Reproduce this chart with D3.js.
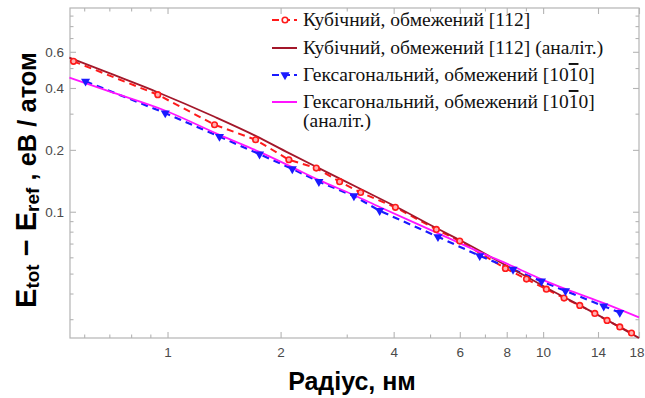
<!DOCTYPE html>
<html>
<head>
<meta charset="utf-8">
<script src="https://cdn.jsdelivr.net/npm/d3@7"></script>
<style>
  body { margin: 0; background: #fff; }
  svg { display: block; }
</style>
</head>
<body>
<svg></svg>
<script>
// cubic, numeric (red dashed + circles)
const cubX = [0.562, 0.942, 1.334, 1.716, 2.104, 2.489, 2.872, 3.267, 4.043, 5.197, 5.998, 7.935, 9.03, 10.2, 11.37, 12.52, 13.73, 14.8, 16.0, 17.19];
const cubY = [0.539, 0.371, 0.265, 0.224, 0.179, 0.163, 0.140, 0.124, 0.105, 0.082, 0.072, 0.053, 0.047, 0.042, 0.038, 0.035, 0.032, 0.0296, 0.0275, 0.0257];

// cubic, analytic (dark red)
const cubAnX = [0.548, 0.70, 0.941, 1.334, 1.716, 2.10, 2.49, 3.267, 4.05, 5.19, 6.0, 7.94, 10.2, 13.7, 18.0];
const cubAnY = [0.562, 0.472, 0.3815, 0.2897, 0.234, 0.1933, 0.1652, 0.129, 0.106, 0.0833, 0.0728, 0.055, 0.0427, 0.0321, 0.0243];

// hexagonal, numeric (blue dashed + triangles)
const hexX = [0.605, 0.986, 1.375, 1.758, 2.149, 2.529, 3.135, 3.671, 5.248, 6.78, 8.316, 9.9, 11.47, 14.5, 16.0];
const hexY = [0.431, 0.302, 0.232, 0.1905, 0.1616, 0.140, 0.1193, 0.1011, 0.0755, 0.061, 0.0524, 0.0459, 0.0412, 0.0347, 0.0323];

// hexagonal, analytic (magenta)
const hexAnX = [0.548, 0.70, 0.988, 1.375, 1.758, 2.14, 2.525, 3.13, 3.67, 5.24, 6.78, 8.30, 9.91, 11.5, 14.5, 18.0];
const hexAnY = [0.449, 0.385, 0.310, 0.2366, 0.1955, 0.1652, 0.1428, 0.1206, 0.1054, 0.0787, 0.0636, 0.0543, 0.0469, 0.042, 0.0359, 0.0306];

const xTicks = [1, 2, 4, 6, 8, 10, 14, 18];
const xMinor = [0.6, 0.7, 0.8, 0.9, 3, 5, 7, 9];
const yTicks = [0.1, 0.2, 0.4, 0.6];
const yMinor = [0.03, 0.04, 0.05, 0.06, 0.07, 0.08, 0.09, 0.3, 0.5, 0.7, 0.8, 0.9];

const legendLabels = [
  "Кубічний, обмежений [112]",
  "Кубічний, обмежений [112] (аналіт.)",
  "Гексагональний, обмежений [10",
  "Гексагональний, обмежений [10"
];

const width = 645, height = 398;
const pLeft = 70, pRight = 639, pTop = 8, pBottom = 338;

const svg = d3.select('svg')
    .attr('width', width)
    .attr('height', height);

const x = d3.scaleLog().domain([0.55, 18]).range([pLeft, pRight]);
const y = d3.scaleLog().domain([0.0243, 0.98]).range([pBottom, pTop]);

const axisColor = '#b4b4b4';

// frame
svg.append('rect')
    .attr('x', pLeft).attr('y', pTop)
    .attr('width', pRight - pLeft).attr('height', pBottom - pTop)
    .attr('fill', 'none').attr('stroke', axisColor).attr('stroke-width', 1.2);

// ticks, all pointing inward, mirrored on top / right
const fmt = d => String(d);
const xb = svg.append('g').attr('transform', `translate(0,${pBottom})`)
    .call(d3.axisBottom(x).tickValues(xTicks).tickSize(-6).tickPadding(9).tickFormat(fmt));
const xbm = svg.append('g').attr('transform', `translate(0,${pBottom})`)
    .call(d3.axisBottom(x).tickValues(xMinor).tickSize(-3.5).tickFormat(''));
const xt = svg.append('g').attr('transform', `translate(0,${pTop})`)
    .call(d3.axisTop(x).tickValues(xTicks).tickSize(-6).tickFormat(''));
const xtm = svg.append('g').attr('transform', `translate(0,${pTop})`)
    .call(d3.axisTop(x).tickValues(xMinor).tickSize(-3.5).tickFormat(''));
const yl = svg.append('g').attr('transform', `translate(${pLeft},0)`)
    .call(d3.axisLeft(y).tickValues(yTicks).tickSize(-6).tickPadding(6).tickFormat(fmt));
const ylm = svg.append('g').attr('transform', `translate(${pLeft},0)`)
    .call(d3.axisLeft(y).tickValues(yMinor).tickSize(-3.5).tickFormat(''));
const yr = svg.append('g').attr('transform', `translate(${pRight},0)`)
    .call(d3.axisRight(y).tickValues(yTicks).tickSize(-6).tickFormat(''));
const yrm = svg.append('g').attr('transform', `translate(${pRight},0)`)
    .call(d3.axisRight(y).tickValues(yMinor).tickSize(-3.5).tickFormat(''));

[xb, xbm, xt, xtm, yl, ylm, yr, yrm].forEach(g => {
    g.select('.domain').remove();
    g.selectAll('line').attr('stroke', axisColor).attr('stroke-width', 1.1);
    g.selectAll('text')
        .attr('fill', '#4a4a4a')
        .style('font-family', '"Liberation Sans", Arial, sans-serif')
        .style('font-size', '13.5px');
});
// last x label sits at the window edge; keep it inside
xb.selectAll('.tick text').filter(d => d === 18)
    .attr('text-anchor', 'end').attr('dx', 5);

// series
const pts = (xs, ys) => xs.map((d, i) => [d, ys[i]]);
const line = d3.line().x(d => x(d[0])).y(d => y(d[1]));
const smooth = d3.line().x(d => x(d[0])).y(d => y(d[1])).curve(d3.curveMonotoneX);

const plot = svg.append('g');

plot.append('path')
    .attr('d', line(pts(cubX, cubY)))
    .attr('fill', 'none').attr('stroke', '#ff1a1a')
    .attr('stroke-width', 2).attr('stroke-dasharray', '7,5');

plot.append('path')
    .attr('d', line(pts(hexX, hexY)))
    .attr('fill', 'none').attr('stroke', '#1a1aff')
    .attr('stroke-width', 2.2).attr('stroke-dasharray', '7,5');

plot.append('path')
    .attr('d', smooth(pts(cubAnX, cubAnY)))
    .attr('fill', 'none').attr('stroke', '#a3172a').attr('stroke-width', 1.8);

plot.append('path')
    .attr('d', smooth(pts(hexAnX, hexAnY)))
    .attr('fill', 'none').attr('stroke', '#ff14ff').attr('stroke-width', 1.8);

const tri = d3.symbol().type(d3.symbolTriangle).size(36);

plot.selectAll('circle.cub')
    .data(pts(cubX, cubY))
    .enter().append('circle')
    .attr('class', 'cub')
    .attr('cx', d => x(d[0])).attr('cy', d => y(d[1]))
    .attr('r', 2.8)
    .attr('fill', '#ffb0b0').attr('stroke', '#ff1a1a').attr('stroke-width', 1.6);

plot.selectAll('path.hex')
    .data(pts(hexX, hexY))
    .enter().append('path')
    .attr('class', 'hex')
    .attr('d', tri)
    .attr('transform', d => `translate(${x(d[0])},${y(d[1])}) rotate(180)`)
    .attr('fill', '#1a1aff');

// legend
const lg = svg.append('g');
const serif = '"Liberation Serif", "Times New Roman", serif';
const rowsY = [20, 48, 75, 102];
const sym = [
    {color: '#ff1a1a', dash: '7,4', mark: 'circle', w: 2},
    {color: '#a3172a', dash: null, mark: null, w: 2},
    {color: '#1a1aff', dash: '7,4', mark: 'tri', w: 2.2},
    {color: '#ff14ff', dash: null, mark: null, w: 2}
];
sym.forEach((s, i) => {
    const ly = rowsY[i];
    lg.append('line')
        .attr('x1', 272).attr('x2', 297).attr('y1', ly).attr('y2', ly)
        .attr('stroke', s.color).attr('stroke-width', s.w)
        .attr('stroke-dasharray', s.dash);
    if (s.mark === 'circle') {
        lg.append('circle').attr('cx', 285).attr('cy', ly).attr('r', 2.8)
            .attr('fill', '#fff').attr('stroke', s.color).attr('stroke-width', 1.6);
    } else if (s.mark === 'tri') {
        lg.append('path').attr('d', tri)
            .attr('transform', `translate(285,${ly}) rotate(180)`)
            .attr('fill', s.color);
    }
    const t = lg.append('text')
        .attr('x', 303).attr('y', ly + 6)
        .attr('fill', '#111')
        .style('font-family', serif)
        .style('font-size', '19.5px')
        .text(legendLabels[i]);
    if (i >= 2) {
        t.append('tspan').style('text-decoration', 'overline').text('1');
        t.append('tspan').text('0]');
    }
});
lg.append('text')
    .attr('x', 303).attr('y', 127)
    .attr('fill', '#111')
    .style('font-family', serif)
    .style('font-size', '19.5px')
    .text('(аналіт.)');

// axis titles
svg.append('text')
    .attr('x', 352).attr('y', 390)
    .attr('text-anchor', 'middle')
    .style('font-family', '"Liberation Sans", Arial, sans-serif')
    .style('font-weight', 'bold')
    .style('font-size', '25px')
    .text('Радіус, нм');

const yt = svg.append('text')
    .attr('transform', 'translate(36,180) rotate(-90)')
    .attr('text-anchor', 'middle')
    .style('font-family', '"Liberation Sans", Arial, sans-serif')
    .style('font-weight', 'bold')
    .style('font-size', '25.5px');
yt.append('tspan').style('font-size', '29px').text('E');
yt.append('tspan').attr('dy', 3).style('font-size', '19px').text('tot');
yt.append('tspan').attr('dy', -3).style('font-size', '29px').text(' − E');
yt.append('tspan').attr('dy', 3).style('font-size', '19px').text('ref');
yt.append('tspan').attr('dy', -3).text(' , еВ / атом');
</script>
</body>
</html>
